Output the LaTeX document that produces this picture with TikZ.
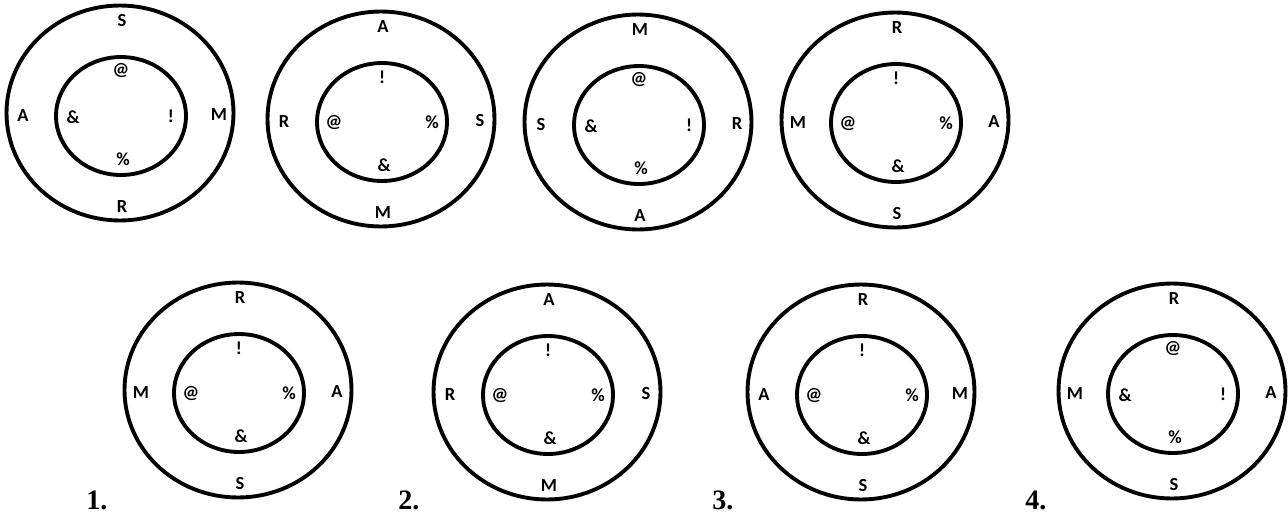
\documentclass[tikz,border=0pt]{standalone}
\usepackage{fontspec}
\setsansfont{Carlito}
\newfontfamily\numfont{Liberation Serif}
\usetikzlibrary{shapes.geometric}

\tikzset{
    ring/.style={draw, ellipse, line width=2.2pt, inner sep=0pt},
    outerring/.style={ring, minimum width=4.54cm, minimum height=4.3cm},
    innerring/.style={ring, minimum width=2.6cm, minimum height=2.36cm},
    letterlbl/.style={font=\sffamily\bfseries\fontsize{10.5}{12}\selectfont, inner sep=0pt},
    optnum/.style={font=\numfont\bfseries\fontsize{16}{19}\selectfont, inner sep=0pt, anchor=base west}
}

\begin{document}
\begin{tikzpicture}[x=0.02cm, y=-0.02cm]
    \useasboundingbox (0,0) rectangle (1288,514);

    % one ring pair per entry: name/centre/outer top,left,right,bottom/inner top,left,right,bottom
    \foreach \n/\cx/\cy/\oT/\oL/\oR/\oB/\iT/\iL/\iR/\iB in {
        q1/120/113/S/A/M/R/@/\&/!/\%,
        q2/381/119/A/R/S/M/!/@/\%/\&,
        q3/638/122/M/S/R/A/@/\&/!/\%,
        q4/895/120/R/M/A/S/!/@/\%/\&,
        a1/238/390/R/M/A/S/!/@/\%/\&,
        a2/547/392/A/R/S/M/!/@/\%/\&,
        a3/861/392/R/A/M/S/!/@/\%/\&,
        a4/1172/391/R/M/A/S/@/\&/!/\%}
    {
        \node[outerring] (out\n) at (\cx,\cy) {};
        \node[innerring] (in\n) at (\cx+1,\cy+3) {};

        % letters between the rings
        \node[letterlbl] (\n ot) at (\cx+2,\cy-92) {\oT};
        \node[letterlbl] (\n ol) at (\cx-97,\cy+3) {\oL};
        \node[letterlbl] (\n or) at (\cx+99,\cy+2) {\oR};
        \node[letterlbl] (\n ob) at (\cx+2,\cy+94) {\oB};

        % symbols inside the inner ring
        \node[letterlbl] (\n it) at (\cx+1,\cy-42) {\iT};
        \node[letterlbl] (\n il) at (\cx-47,\cy+4) {\iL};
        \node[letterlbl] (\n ir) at (\cx+51,\cy+3) {\iR};
        \node[letterlbl] (\n ib) at (\cx+3,\cy+46) {\iB};
    }

    % option numbers
    \node[optnum] (num1) at (86,509) {1.};
    \node[optnum] (num2) at (398,509) {2.};
    \node[optnum] (num3) at (712,509) {3.};
    \node[optnum] (num4) at (1025,509) {4.};
\end{tikzpicture}
\end{document}
